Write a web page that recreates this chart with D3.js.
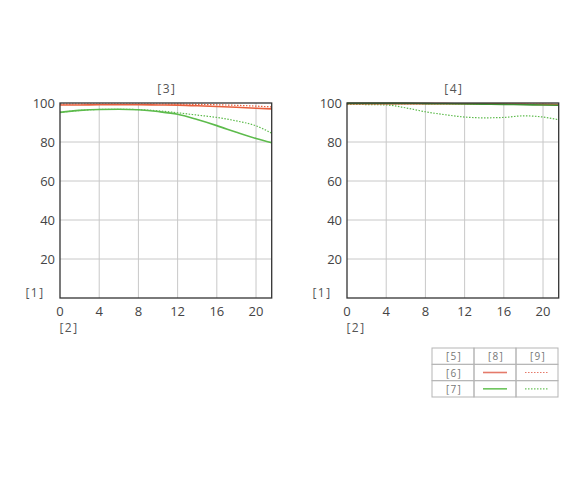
<!DOCTYPE html>
<html>
<head>
<meta charset="utf-8">
<script src="https://cdn.jsdelivr.net/npm/d3@7"></script>
<style>
  body { margin: 0; background: #fff; }
  text { font-family: "Open Sans", "Noto Sans", sans-serif; }
</style>
</head>
<body>
<div class="mtfChart"></div>
<script>
// image height positions (mm)
var xs = [0, 2, 4, 6, 8, 10, 12, 14, 16, 18, 20, 21.6];

// left panel [3]
var redSolidL   = [99.0, 99.0, 99.1, 99.1, 99.1, 99.0, 98.9, 98.6, 98.2, 97.8, 97.3, 97.0];
var redDotL     = [99.4, 99.5, 99.5, 99.5, 99.5, 99.5, 99.4, 99.3, 99.1, 98.8, 98.4, 98.0];
var greenSolidL = [95.2, 96.2, 96.7, 96.8, 96.5, 95.6, 94.2, 91.5, 88.4, 85.0, 81.8, 79.6];
var greenDotL   = [95.2, 96.2, 96.7, 96.8, 96.6, 96.0, 95.0, 93.8, 92.6, 90.8, 88.3, 84.5];

// right panel [4]
var redSolidR   = [99.7, 99.7, 99.7, 99.7, 99.7, 99.7, 99.6, 99.6, 99.5, 99.4, 99.3, 99.2];
var redDotR     = [99.5, 99.5, 99.5, 99.5, 99.5, 99.5, 99.5, 99.4, 99.4, 99.3, 99.3, 99.2];
var greenSolidR = [99.8, 99.8, 99.8, 99.8, 99.7, 99.6, 99.5, 99.4, 99.3, 99.1, 99.0, 98.8];
var greenDotR   = [99.3, 99.2, 99.0, 97.5, 95.5, 94.0, 92.8, 92.4, 92.6, 93.4, 92.8, 91.4];

var xTicks = [0, 4, 8, 12, 16, 20];
var yTicks = [20, 40, 60, 80, 100];
var panelTitles = ["[3]", "[4]"];
var legendHead = ["[5]", "[8]", "[9]"];
var legendRows = ["[6]", "[7]"];

var red = "#e8603e";
var green = "#5dbb4c";

var svg = d3.select(".mtfChart")
    .append("svg")
    .attr("width", 583)
    .attr("height", 480);

var y = d3.scaleLinear().domain([0, 100]).range([298, 103]);

var line = function(x, vals) {
    return d3.line()
        .x(function(d, i) { return x(xs[i]); })
        .y(function(d) { return y(d); })
        .curve(d3.curveMonotoneX)(vals);
};

var panels = [
    { left: 60, title: panelTitles[0], series: [
        { v: greenDotL, c: green, dot: true },
        { v: greenSolidL, c: green, dot: false },
        { v: redDotL, c: red, dot: true },
        { v: redSolidL, c: red, dot: false }
    ]},
    { left: 347, title: panelTitles[1], series: [
        { v: greenDotR, c: green, dot: true },
        { v: redDotR, c: red, dot: true },
        { v: redSolidR, c: red, dot: false },
        { v: greenSolidR, c: "#3f8f33", dot: false }
    ]}
];

var label = function(g, x, yy, t) {
    g.append("text")
        .attr("x", x).attr("y", yy)
        .attr("text-anchor", "middle")
        .attr("font-size", 12)
        .attr("letter-spacing", 1.5)
        .attr("fill", "#555")
        .text(t);
};

panels.forEach(function(p) {
    var x = d3.scaleLinear().domain([0, 21.6]).range([p.left, p.left + 211.7]);
    var g = svg.append("g");

    // grid
    g.selectAll(".vgrid").data(xTicks.slice(1))
        .enter().append("line")
        .attr("x1", function(d) { return x(d); })
        .attr("x2", function(d) { return x(d); })
        .attr("y1", y(0)).attr("y2", y(100))
        .attr("stroke", "#c8c8c8").attr("stroke-width", 1);
    g.selectAll(".hgrid").data(yTicks.slice(0, -1))
        .enter().append("line")
        .attr("x1", x(0)).attr("x2", x(21.6))
        .attr("y1", function(d) { return y(d); })
        .attr("y2", function(d) { return y(d); })
        .attr("stroke", "#c8c8c8").attr("stroke-width", 1);

    // curves
    p.series.forEach(function(s) {
        g.append("path")
            .attr("d", line(x, s.v))
            .attr("fill", "none")
            .attr("stroke", s.c)
            .attr("stroke-width", s.dot ? 1.2 : 1.6)
            .attr("stroke-dasharray", s.dot ? "1.5,1.5" : null);
    });

    // frame
    g.append("rect")
        .attr("x", x(0)).attr("y", y(100))
        .attr("width", x(21.6) - x(0)).attr("height", y(0) - y(100))
        .attr("fill", "none").attr("stroke", "#333").attr("stroke-width", 1.3);

    // tick labels
    g.selectAll(".xl").data(xTicks)
        .enter().append("text")
        .attr("x", function(d) { return x(d); })
        .attr("y", 316)
        .attr("text-anchor", "middle")
        .attr("font-size", 13)
        .attr("fill", "#444")
        .text(function(d) { return d; });
    g.selectAll(".yl").data(yTicks)
        .enter().append("text")
        .attr("x", x(0) - 5)
        .attr("y", function(d) { return y(d) + 5; })
        .attr("text-anchor", "end")
        .attr("font-size", 13)
        .attr("fill", "#444")
        .text(function(d) { return d; });

    label(g, (x(0) + x(21.6)) / 2 + 1, 93, p.title);
    label(g, x(0) - 25, 297, "[1]");
    label(g, x(0) + 9, 332, "[2]");
});

// legend table
var colX = d3.scaleBand().domain([0, 1, 2]).range([432, 558]);
var rowY = d3.scaleBand().domain([0, 1, 2]).range([348, 397]);
var leg = svg.append("g");

[0, 1, 2].forEach(function(r) {
    [0, 1, 2].forEach(function(c) {
        leg.append("rect")
            .attr("x", colX(c)).attr("y", rowY(r))
            .attr("width", colX.bandwidth()).attr("height", rowY.bandwidth())
            .attr("fill", "none").attr("stroke", "#b5b5b5").attr("stroke-width", 1);
    });
});

var legText = function(x, yy, t) {
    leg.append("text")
        .attr("x", x).attr("y", yy)
        .attr("text-anchor", "middle").attr("font-size", 10)
        .attr("letter-spacing", 1.2).attr("fill", "#777")
        .text(t);
};

legendHead.forEach(function(t, c) {
    legText(colX(c) + colX.bandwidth() / 2 + 1, rowY(0) + rowY.bandwidth() / 2 + 4, t);
});

legendRows.forEach(function(t, i) {
    var r = i + 1;
    var col = i === 0 ? "#e57a6a" : "#6cc45c";
    var cy = rowY(r) + rowY.bandwidth() / 2;
    legText(colX(0) + colX.bandwidth() / 2 + 1, cy + 4, t);
    [1, 2].forEach(function(c) {
        leg.append("line")
            .attr("x1", colX(c) + 9).attr("x2", colX(c) + colX.bandwidth() - 9)
            .attr("y1", cy).attr("y2", cy)
            .attr("stroke", col)
            .attr("stroke-width", c === 1 ? 1.6 : 1.1)
            .attr("stroke-dasharray", c === 1 ? null : "1.5,1.5");
    });
});
</script>
</body>
</html>
